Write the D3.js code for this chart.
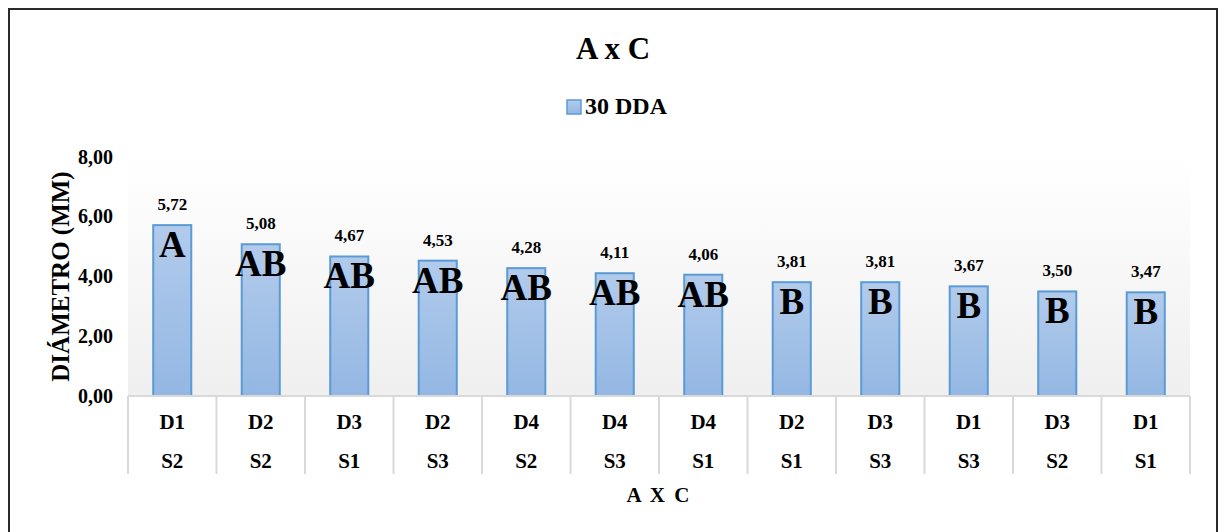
<!DOCTYPE html>
<html><head><meta charset="utf-8">
<script src="https://cdn.jsdelivr.net/npm/d3@7"></script>
<style>html,body{margin:0;padding:0;background:#fff;overflow:hidden}</style>
</head><body>
<svg id="chart" width="1219" height="532"></svg>
<script>
const doses = ["D1","D2","D3","D2","D4","D4","D4","D2","D3","D1","D3","D1"];
const subs  = ["S2","S2","S1","S3","S2","S3","S1","S1","S3","S3","S2","S1"];
const values = [5.72,5.08,4.67,4.53,4.28,4.11,4.06,3.81,3.81,3.67,3.50,3.47];
const letters = ["A","AB","AB","AB","AB","AB","AB","B","B","B","B","B"];
const yTicks = [0,2,4,6,8];
const seriesName = "30 DDA";

const svg = d3.select("#chart");
const font = "'Liberation Serif','Times New Roman',serif";
const L = 128, R = 1190, T = 157, B = 396;

const defs = svg.append("defs");
const bg = defs.append("linearGradient").attr("id","bg").attr("x1",0).attr("y1",0).attr("x2",0).attr("y2",1);
bg.append("stop").attr("offset","0%").attr("stop-color","#ffffff");
bg.append("stop").attr("offset","100%").attr("stop-color","#efefef");
const bf = defs.append("linearGradient").attr("id","bf").attr("x1",0).attr("y1",0).attr("x2",0).attr("y2",1);
bf.append("stop").attr("offset","0%").attr("stop-color","#b2cbeb");
bf.append("stop").attr("offset","100%").attr("stop-color","#93b7e3");

// outer frame
svg.append("rect").attr("x",9).attr("y",9).attr("width",1208).attr("height",540)
  .attr("fill","none").attr("stroke","#2b2b2b").attr("stroke-width",2);

const keys = values.map((v,i)=>i);
const x = d3.scaleBand().domain(keys).range([L,R]).paddingInner(0.57).paddingOuter(0.285);
const xStep = d3.scaleBand().domain(keys).range([L,R]);
const y = d3.scaleLinear().domain([0,8]).range([B,T]);

svg.append("rect").attr("x",L).attr("y",T).attr("width",R-L).attr("height",B-T).attr("fill","url(#bg)");

// y axis labels
const yAxis = d3.axisLeft(y).tickValues(yTicks).tickSize(0).tickPadding(15)
  .tickFormat(d=>d3.format(".2f")(d).replace(".",","));
const ya = svg.append("g").attr("transform",`translate(${L},0)`).call(yAxis);
ya.select(".domain").remove();
ya.selectAll("text").attr("font-family",font).attr("font-weight","bold").attr("font-size",20).attr("fill","#000").attr("dy","0.3em");

// bars
svg.selectAll("rect.bar").data(values).enter().append("rect").attr("class","bar")
  .attr("x",(d,i)=>x(i)).attr("width",x.bandwidth())
  .attr("y",d=>y(d)).attr("height",d=>B-y(d))
  .attr("fill","url(#bf)").attr("stroke","#5b9bd5").attr("stroke-width",2);

// value labels
svg.selectAll("text.val").data(values).enter().append("text").attr("class","val")
  .attr("x",(d,i)=>x(i)+x.bandwidth()/2).attr("y",d=>y(d)-15)
  .attr("text-anchor","middle").attr("font-family",font).attr("font-weight","bold").attr("font-size",17)
  .text(d=>d3.format(".2f")(d).replace(".",","));

// letters
svg.selectAll("text.let").data(letters).enter().append("text").attr("class","let")
  .attr("x",(d,i)=>x(i)+x.bandwidth()/2).attr("y",(d,i)=>y(values[i])+32)
  .attr("text-anchor","middle").attr("font-family",font).attr("font-weight","bold").attr("font-size",37)
  .text(d=>d);

// category table
const grid = svg.append("g").attr("stroke","#d9d9d9").attr("stroke-width",2);
grid.append("line").attr("x1",L).attr("x2",R).attr("y1",B).attr("y2",B);
keys.concat([keys.length]).forEach(i=>{
  const xx = i<keys.length ? xStep(i) : R;
  grid.append("line").attr("x1",xx).attr("x2",xx).attr("y1",B).attr("y2",474);
});
svg.selectAll("text.dose").data(doses).enter().append("text")
  .attr("x",(d,i)=>xStep(i)+xStep.bandwidth()/2).attr("y",429)
  .attr("text-anchor","middle").attr("font-family",font).attr("font-weight","bold").attr("font-size",21).text(d=>d);
svg.selectAll("text.sub").data(subs).enter().append("text")
  .attr("x",(d,i)=>xStep(i)+xStep.bandwidth()/2).attr("y",468)
  .attr("text-anchor","middle").attr("font-family",font).attr("font-weight","bold").attr("font-size",21).text(d=>d);

// titles
svg.append("text").attr("x",613).attr("y",59).attr("text-anchor","middle").attr("font-family",font)
  .attr("font-weight","bold").attr("font-size",31).text("A x C");
svg.append("text").attr("x",(L+R)/2).attr("y",502).attr("text-anchor","middle").attr("font-family",font)
  .attr("font-weight","bold").attr("font-size",21).attr("letter-spacing",2).text("A X C");
svg.append("text").attr("transform",`translate(69,${(T+B)/2}) rotate(-90)`).attr("text-anchor","middle")
  .attr("font-family",font).attr("font-weight","bold").attr("font-size",25).text("DIÁMETRO (MM)");

// legend
const lg = svg.append("g");
lg.append("rect").attr("x",567).attr("y",100).attr("width",14).attr("height",14)
  .attr("fill","url(#bf)").attr("stroke","#5b9bd5").attr("stroke-width",1.5);
lg.append("text").attr("x",585).attr("y",114).attr("font-family",font).attr("font-weight","bold")
  .attr("font-size",24).text(seriesName);
</script>
</body></html>
